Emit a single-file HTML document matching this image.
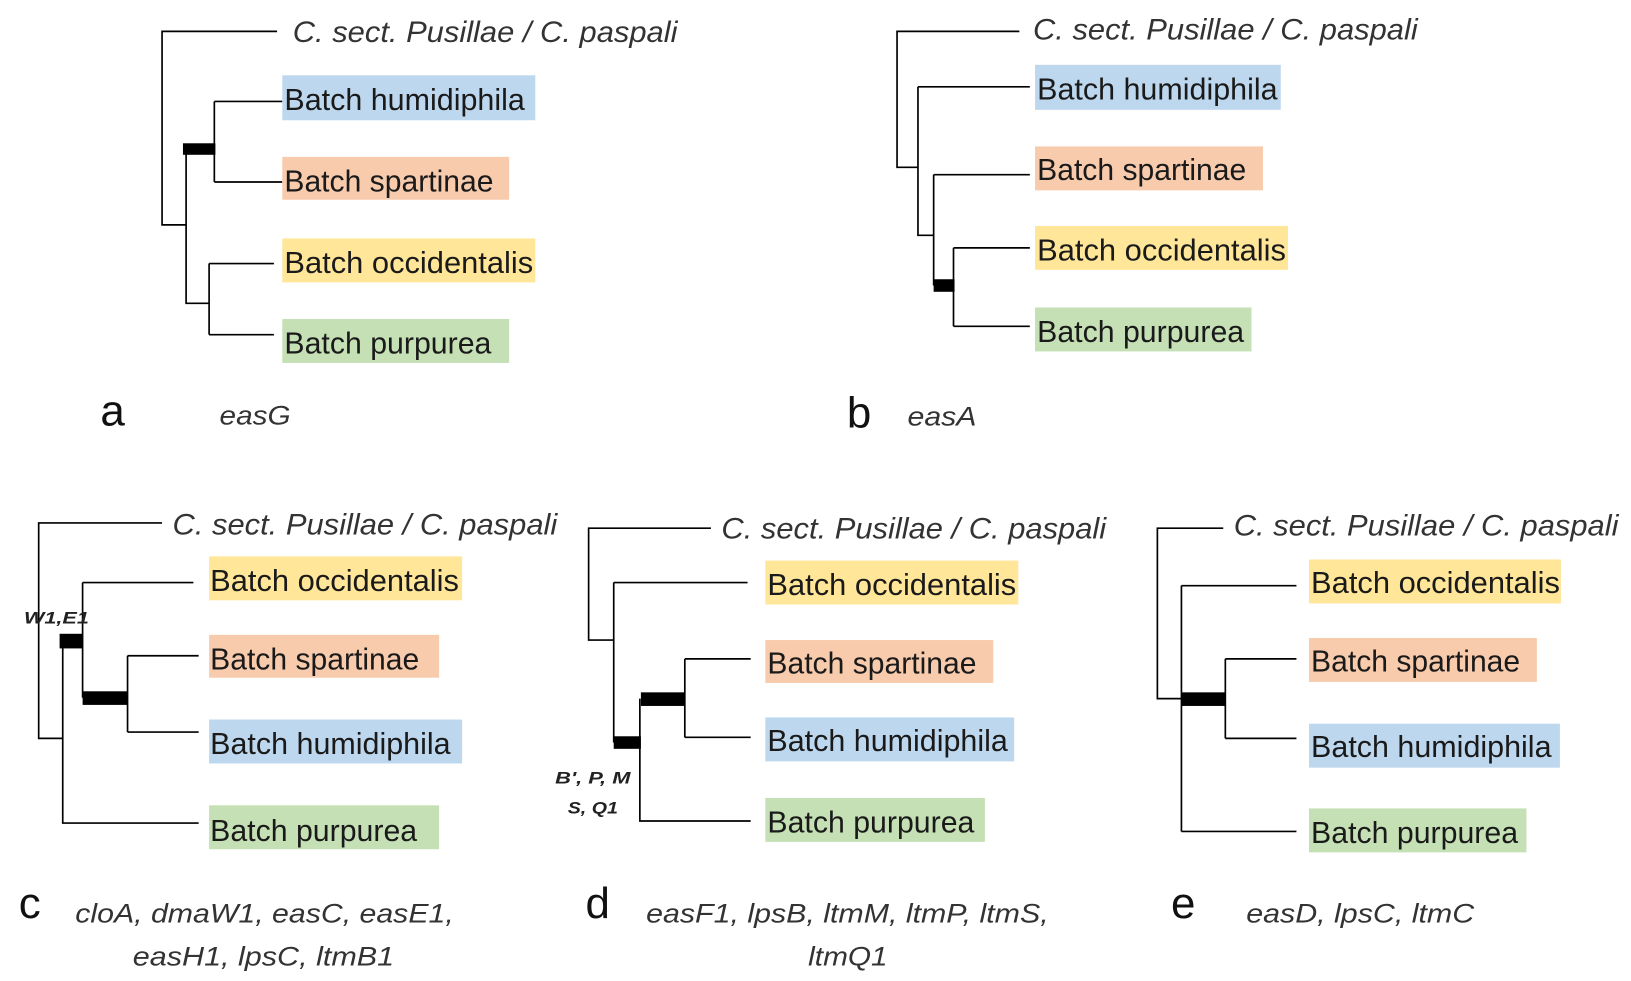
<!DOCTYPE html>
<html><head><meta charset="utf-8"><style>
html,body{margin:0;padding:0;background:#fff;width:1631px;height:981px;overflow:hidden}
svg{display:block}
text{font-family:"Liberation Sans",Arial,sans-serif;fill:#1a1a1a}
.l{font-size:29px}
.t{font-size:28px;font-style:italic;fill:#333}
.g{font-size:26px;font-style:italic;fill:#333}
.p{font-size:42px;fill:#111}
.s{font-size:16px;font-style:italic;font-weight:bold;fill:#222}
</style></head><body>
<svg width="1631" height="981" viewBox="0 0 1560 938" preserveAspectRatio="none" xmlns="http://www.w3.org/2000/svg">
<g stroke="#000" stroke-width="1.6" fill="none">
<!-- a -->
<path d="M265 30H155V215H178M178 142V290H200M205 97V174M205 97H270M205 174H270M200 252V320M200 252H262M200 320H262"/>
<!-- b -->
<path d="M975 30H858V160H878M878 83V225H893M878 83H985M893 167V273M893 167H985M912 237V312M912 237H985M912 312H985"/>
<!-- c -->
<path d="M155 500H37V706H60M60 613V787H190M79 557V667M79 557H185M122 627V700M122 627H190M122 700H190"/>
<!-- d -->
<path d="M680 505H563V612H587M587 557V710M587 557H715M612 668V785H718M655 630V705M655 630H718M655 705H718"/>
<!-- e -->
<path d="M1170 505H1107V668H1130M1130 560V795M1130 560H1240M1130 795H1240M1172 630V706M1172 630H1240M1172 706H1240"/>
</g>
<g fill="#000">
<rect x="175" y="137" width="31" height="11"/>
<rect x="893" y="267" width="20" height="12"/>
<rect x="57" y="606" width="22" height="14"/>
<rect x="79" y="661" width="43" height="13"/>
<rect x="587" y="704" width="26" height="12"/>
<rect x="613" y="662" width="42" height="13"/>
<rect x="1130" y="662" width="42" height="13"/>
</g>
<!-- boxes -->
<g>
<rect x="270" y="72" width="242" height="43" fill="#bdd7ee"/>
<rect x="270" y="150" width="217" height="41" fill="#f8cbad"/>
<rect x="270" y="228" width="242" height="42" fill="#ffe699"/>
<rect x="270" y="305" width="217" height="42" fill="#c5e0b4"/>
<rect x="990" y="62" width="235" height="43" fill="#bdd7ee"/>
<rect x="990" y="140" width="218" height="42" fill="#f8cbad"/>
<rect x="990" y="216" width="242" height="42" fill="#ffe699"/>
<rect x="990" y="294" width="207" height="42" fill="#c5e0b4"/>
<rect x="200" y="532" width="242" height="42" fill="#ffe699"/>
<rect x="200" y="607" width="220" height="41" fill="#f8cbad"/>
<rect x="200" y="688" width="242" height="42" fill="#bdd7ee"/>
<rect x="200" y="770" width="220" height="42" fill="#c5e0b4"/>
<rect x="732" y="536" width="242" height="42" fill="#ffe699"/>
<rect x="732" y="612" width="218" height="41" fill="#f8cbad"/>
<rect x="732" y="686" width="238" height="42" fill="#bdd7ee"/>
<rect x="732" y="763" width="210" height="42" fill="#c5e0b4"/>
<rect x="1252" y="535" width="241" height="42" fill="#ffe699"/>
<rect x="1252" y="610" width="218" height="42" fill="#f8cbad"/>
<rect x="1252" y="692" width="240" height="42" fill="#bdd7ee"/>
<rect x="1252" y="773" width="208" height="42" fill="#c5e0b4"/>
</g>
<!-- labels a -->
<text class="t" x="280" y="40" textLength="368" lengthAdjust="spacingAndGlyphs">C.  sect. Pusillae / C. paspali</text>
<text class="l" x="272" y="105" textLength="230" lengthAdjust="spacingAndGlyphs">Batch humidiphila</text>
<text class="l" x="272" y="183" textLength="200" lengthAdjust="spacingAndGlyphs">Batch spartinae</text>
<text class="l" x="272" y="261" textLength="238" lengthAdjust="spacingAndGlyphs">Batch occidentalis</text>
<text class="l" x="272" y="338" textLength="198" lengthAdjust="spacingAndGlyphs">Batch purpurea</text>
<text class="p" x="96" y="407">a</text>
<text class="g" x="210" y="406" textLength="68" lengthAdjust="spacingAndGlyphs">easG</text>
<!-- b -->
<text class="t" x="988" y="38" textLength="368" lengthAdjust="spacingAndGlyphs">C.  sect. Pusillae / C. paspali</text>
<text class="l" x="992" y="95" textLength="230" lengthAdjust="spacingAndGlyphs">Batch humidiphila</text>
<text class="l" x="992" y="172" textLength="200" lengthAdjust="spacingAndGlyphs">Batch spartinae</text>
<text class="l" x="992" y="249" textLength="238" lengthAdjust="spacingAndGlyphs">Batch occidentalis</text>
<text class="l" x="992" y="327" textLength="198" lengthAdjust="spacingAndGlyphs">Batch purpurea</text>
<text class="p" x="810" y="409">b</text>
<text class="g" x="868" y="407" textLength="66" lengthAdjust="spacingAndGlyphs">easA</text>
<!-- c -->
<text class="t" x="165" y="511" textLength="368" lengthAdjust="spacingAndGlyphs">C.  sect. Pusillae / C. paspali</text>
<text class="l" x="201" y="565" textLength="238" lengthAdjust="spacingAndGlyphs">Batch occidentalis</text>
<text class="l" x="201" y="640" textLength="200" lengthAdjust="spacingAndGlyphs">Batch spartinae</text>
<text class="l" x="201" y="721" textLength="230" lengthAdjust="spacingAndGlyphs">Batch humidiphila</text>
<text class="l" x="201" y="804" textLength="198" lengthAdjust="spacingAndGlyphs">Batch purpurea</text>
<text class="s" x="23" y="596" textLength="62" lengthAdjust="spacingAndGlyphs">W1,E1</text>
<text class="p" x="18" y="878">c</text>
<text class="g" x="72" y="882" textLength="362" lengthAdjust="spacingAndGlyphs">cloA, dmaW1, easC, easE1,</text>
<text class="g" x="127" y="923" textLength="250" lengthAdjust="spacingAndGlyphs">easH1, lpsC, ltmB1</text>
<!-- d -->
<text class="t" x="690" y="515" textLength="368" lengthAdjust="spacingAndGlyphs">C.  sect. Pusillae / C. paspali</text>
<text class="l" x="734" y="569" textLength="238" lengthAdjust="spacingAndGlyphs">Batch occidentalis</text>
<text class="l" x="734" y="644" textLength="200" lengthAdjust="spacingAndGlyphs">Batch spartinae</text>
<text class="l" x="734" y="718" textLength="230" lengthAdjust="spacingAndGlyphs">Batch humidiphila</text>
<text class="l" x="734" y="796" textLength="198" lengthAdjust="spacingAndGlyphs">Batch purpurea</text>
<text class="s" x="531" y="749" textLength="72" lengthAdjust="spacingAndGlyphs">B', P, M</text>
<text class="s" x="543" y="778" textLength="48" lengthAdjust="spacingAndGlyphs">S, Q1</text>
<text class="p" x="560" y="878">d</text>
<text class="g" x="618" y="882" textLength="385" lengthAdjust="spacingAndGlyphs">easF1, lpsB, ltmM, ltmP, ltmS,</text>
<text class="g" x="773" y="923" textLength="76" lengthAdjust="spacingAndGlyphs">ltmQ1</text>
<!-- e -->
<text class="t" x="1180" y="512" textLength="368" lengthAdjust="spacingAndGlyphs">C.  sect. Pusillae / C. paspali</text>
<text class="l" x="1254" y="567" textLength="238" lengthAdjust="spacingAndGlyphs">Batch occidentalis</text>
<text class="l" x="1254" y="642" textLength="200" lengthAdjust="spacingAndGlyphs">Batch spartinae</text>
<text class="l" x="1254" y="724" textLength="230" lengthAdjust="spacingAndGlyphs">Batch humidiphila</text>
<text class="l" x="1254" y="806" textLength="198" lengthAdjust="spacingAndGlyphs">Batch purpurea</text>
<text class="p" x="1120" y="878">e</text>
<text class="g" x="1192" y="882" textLength="218" lengthAdjust="spacingAndGlyphs">easD, lpsC, ltmC</text>
</svg>
</body></html>
